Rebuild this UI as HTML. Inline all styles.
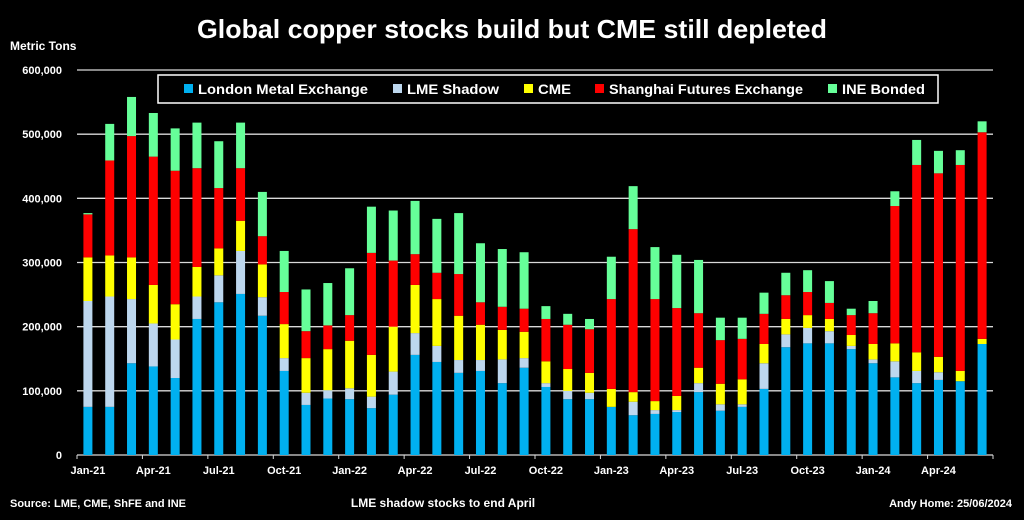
<!DOCTYPE html>
<html><head><meta charset="utf-8"><style>
body{margin:0;background:#000;width:1024px;height:515px;overflow:hidden;font-family:"Liberation Sans",sans-serif;}
svg text{font-family:"Liberation Sans",sans-serif;font-weight:bold;fill:#fff;}
</style></head><body>
<svg id="chart" width="1024" height="515" xmlns="http://www.w3.org/2000/svg">
<text x="512" y="38" text-anchor="middle" font-size="26" textLength="630" lengthAdjust="spacingAndGlyphs">Global copper stocks build but CME still depleted</text>
<text x="10" y="50" font-size="12">Metric Tons</text>
<g id="grid"></g><g id="bars"></g><g id="axes"></g>
<g>
<rect x="158" y="75" width="780" height="28" fill="#000" stroke="#fff" stroke-width="1.5"/>
</g>
<g id="legend"></g>
<text x="10" y="507" font-size="11">Source: LME, CME, ShFE and INE</text>
<text x="443" y="507" text-anchor="middle" font-size="12">LME shadow stocks to end April</text>
<text x="1012" y="507" text-anchor="end" font-size="11">Andy Home: 25/06/2024</text>
</svg>
<script>
const categories=["Jan-21","Feb-21","Mar-21","Apr-21","May-21","Jun-21","Jul-21","Aug-21","Sep-21","Oct-21","Nov-21","Dec-21","Jan-22","Feb-22","Mar-22","Apr-22","May-22","Jun-22","Jul-22","Aug-22","Sep-22","Oct-22","Nov-22","Dec-22","Jan-23","Feb-23","Mar-23","Apr-23","May-23","Jun-23","Jul-23","Aug-23","Sep-23","Oct-23","Nov-23","Dec-23","Jan-24","Feb-24","Mar-24","Apr-24","May-24","Jun-24"];
const lme=[75,75,143,138,120,212,238,251,217,131,78,88,87,73,94,156,145,128,131,112,136,106,87,87,75,62,64,67,98,69,75,103,168,174,174,165,143,121,112,117,115,173];
const lmeShadow=[165,172,100,67,60,35,42,67,29,20,19,13,17,18,36,34,25,20,17,37,15,6,13,10,0,21,6,3,14,10,4,40,20,24,19,5,6,25,19,12,0,0];
const cme=[68,64,65,60,55,46,42,47,51,53,54,64,74,65,70,75,73,69,55,46,41,34,34,31,28,15,14,22,24,32,39,30,24,20,19,17,24,28,29,24,16,8];
const shfe=[67,148,189,200,208,154,94,82,44,50,42,37,40,159,103,48,41,65,35,36,36,66,69,68,140,254,159,137,85,68,63,47,37,36,25,31,48,214,292,286,321,322];
const ine=[2,57,61,68,66,71,73,71,69,64,65,66,73,72,78,83,84,95,92,90,88,20,17,16,66,67,81,83,83,35,33,33,35,34,34,10,19,23,39,35,23,17];
const yTicks=[0,100,200,300,400,500,600];
const yTickLabels=["0","100,000","200,000","300,000","400,000","500,000","600,000"];
const xTickLabels=["Jan-21","Apr-21","Jul-21","Oct-21","Jan-22","Apr-22","Jul-22","Oct-22","Jan-23","Apr-23","Jul-23","Oct-23","Jan-24","Apr-24"];
const seriesNames=["London Metal Exchange","LME Shadow","CME","Shanghai Futures Exchange","INE Bonded"];
const colors=["#00b0f0","#bdd7ee","#ffff00","#ff0000","#66ff99"];
const NS="http://www.w3.org/2000/svg";
const L=77,R=993,T=70,B=455,YMAX=600;
const step=(R-L)/categories.length;
const xC=i=>L+step*(i+0.5);
const yS=v=>B-(v/YMAX)*(B-T);
function mk(tag,attrs,parent){const e=document.createElementNS(NS,tag);for(const k in attrs)e.setAttribute(k,attrs[k]);parent.appendChild(e);return e;}
const grid=document.getElementById('grid'),bars=document.getElementById('bars'),axes=document.getElementById('axes'),leg=document.getElementById('legend');
yTicks.forEach((v,i)=>{
 const g=mk('line',{x1:L,x2:R,y1:yS(v),y2:yS(v),stroke:'#d9d9d9','stroke-width':1.3},grid);
 
 
 const t=mk('text',{x:62,y:yS(v)+4,'text-anchor':'end','font-size':11},axes);
 t.textContent=yTickLabels[i];
 
 
});
const series=[lme,lmeShadow,cme,shfe,ine];
categories.forEach((c,i)=>{
 let base=0;
 series.forEach((s,k)=>{
  const v=s[i];if(v<=0)return;
  const r=mk('rect',{x:xC(i)-4.5,width:9,y:yS(base+v),height:yS(base)-yS(base+v),fill:colors[k]},bars);
  
  
  base+=v;
 });
});
for(let j=0;j<=categories.length;j+=3){
 const x=L+step*j;
 const tk=mk('line',{x1:x,x2:x,y1:B,y2:B+4,stroke:'#d9d9d9','stroke-width':1},axes);
 
 
}
xTickLabels.forEach((lab,j)=>{
 const t=mk('text',{x:xC(j*3),y:B+19,'text-anchor':'middle','font-size':11},axes);
 t.textContent=lab;
 
 
});
const legX=[184,393,524,595,828];
const legW=[170,92,33,194,83];
seriesNames.forEach((n,k)=>{
 const g=mk('g',{},leg);
 
 
 mk('rect',{x:legX[k],y:84,width:9,height:9,fill:colors[k]},g);
 const t=mk('text',{x:legX[k]+14,y:94,'font-size':14,textLength:legW[k],lengthAdjust:'spacingAndGlyphs'},g);
 t.textContent=n;
});
</script>
</body></html>
